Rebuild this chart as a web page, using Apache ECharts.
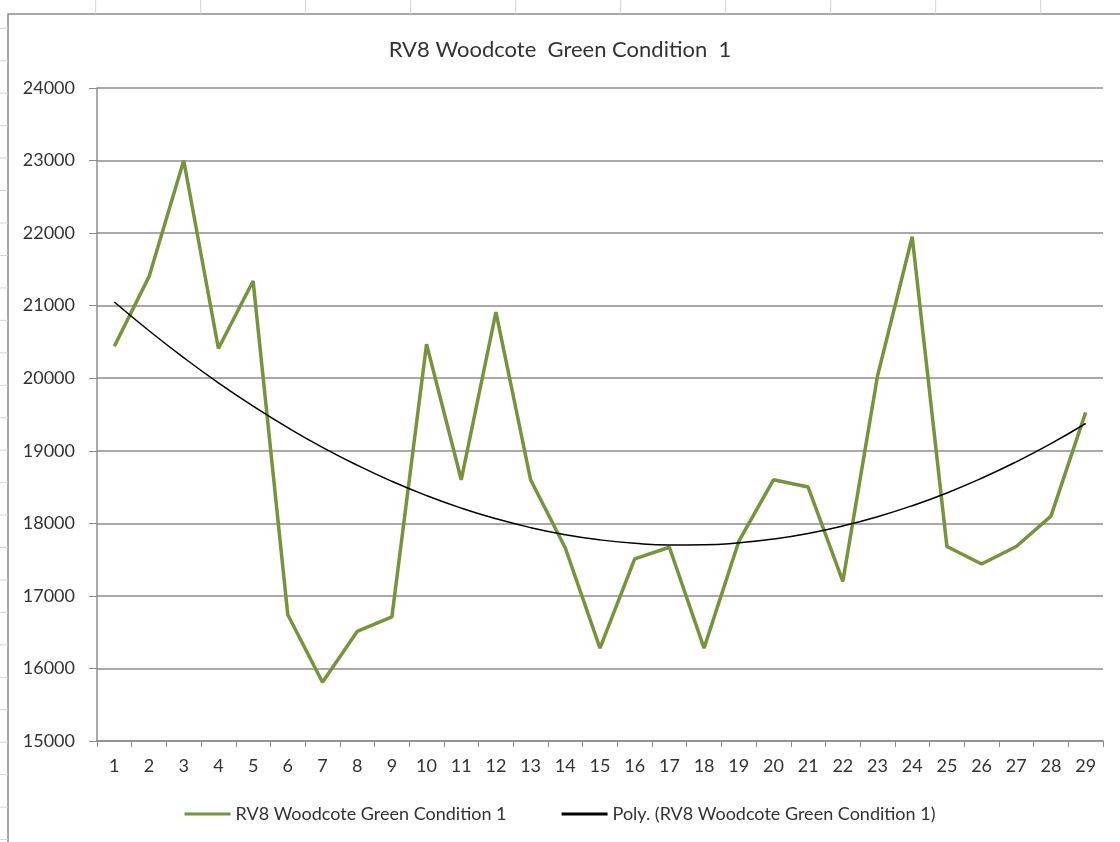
<!DOCTYPE html>
<html>
<head>
<meta charset="utf-8">
<script src="https://cdn.jsdelivr.net/npm/echarts@6/dist/echarts.min.js"></script>
<style>
html,body{margin:0;padding:0;background:#fff;}
#chart{width:1120px;height:842px;}
</style>
</head>
<body>
<div id="chart"></div>
<script>
var categories = ['1','2','3','4','5','6','7','8','9','10','11','12','13','14','15','16','17','18','19','20','21','22','23','24','25','26','27','28','29'];
var seriesValues = [20440,21400,23000,20410,21340,16740,15810,16510,16710,20470,18600,20910,18600,17660,16280,17510,17670,16280,17750,18600,18500,17200,20030,21950,17680,17440,17680,18100,19530];
var trendValues = [21050,20654,20283,19936,19615,19319,19047,18801,18579,18382,18210,18063,17941,17844,17772,17724,17702,17704,17732,17784,17861,17964,18091,18243,18419,18621,18848,19099,19376];
var yTicks = [15000,16000,17000,18000,19000,20000,21000,22000,23000,24000];
var seriesName = 'RV8 Woodcote Green Condition 1';
var trendName = 'Poly. (RV8 Woodcote Green Condition 1)';
var titleText = 'RV8 Woodcote  Green Condition  1';

var FONT = 'Lato, "Noto Sans", sans-serif';

// decorative spreadsheet cell lines outside the chart
var deco = [];
for (var k = 0; k < 11; k++) {
  var x = 95.7 + 105 * k;
  deco.push({type:'line', shape:{x1:x, y1:0, x2:x, y2:14}, style:{stroke:'#d4d4d4', lineWidth:1}, silent:true});
}
for (var j = 0; j < 26; j++) {
  var y = 28.3 + 32.45 * j;
  deco.push({type:'line', shape:{x1:0, y1:y, x2:8, y2:y}, style:{stroke:'#d4d4d4', lineWidth:1}, silent:true});
}
deco.push({type:'rect', shape:{x:8, y:14, width:1200, height:900}, style:{fill:'none', stroke:'#8c8c8c', lineWidth:1.5}, silent:true, z:-1});

var chart = echarts.init(document.getElementById('chart'));
chart.setOption({
  backgroundColor:'#ffffff',
  animation:false,
  graphic: deco,
  title:{
    text: titleText,
    left:'center',
    top:34,
    textStyle:{fontFamily:FONT, fontSize:22, fontWeight:'normal', color:'#333333'}
  },
  legend:{
    bottom:14,
    left:'center',
    itemGap:55,
    itemWidth:46,
    itemHeight:3,
    textStyle:{fontFamily:FONT, fontSize:18, color:'#333333'},
    data:[
      {name: seriesName, icon:'rect'},
      {name: trendName, icon:'rect', itemStyle:{color:'#000000'}}
    ]
  },
  grid:{left:97, right:17, top:88, bottom:101, containLabel:false},
  xAxis:{
    type:'category',
    data: categories,
    boundaryGap:true,
    axisLine:{lineStyle:{color:'#8c8c8c', width:1.5}},
    axisTick:{show:true, alignWithLabel:false, length:6, lineStyle:{color:'#8c8c8c'}},
    axisLabel:{fontFamily:FONT, fontSize:18, color:'#333333', margin:16, interval:0},
    splitLine:{show:false}
  },
  yAxis:{
    type:'value',
    min: yTicks[0],
    max: yTicks[yTicks.length-1],
    interval: 1000,
    axisLine:{show:true, lineStyle:{color:'#8c8c8c', width:1.5}},
    axisTick:{show:true, length:8, lineStyle:{color:'#8c8c8c'}},
    axisLabel:{fontFamily:FONT, fontSize:18, color:'#333333', margin:22, formatter:function(v){return String(v);}},
    splitLine:{show:true, lineStyle:{color:'#8c8c8c', width:1.5}}
  },
  series:[
    {
      name: seriesName,
      type:'line',
      data: seriesValues,
      symbol:'none',
      lineStyle:{color:'#77933c', width:3.5},
      itemStyle:{color:'#77933c'},
      z:2
    },
    {
      name: trendName,
      type:'line',
      data: trendValues,
      symbol:'none',
      smooth:true,
      lineStyle:{color:'#000000', width:1.5},
      itemStyle:{color:'#000000'},
      z:3
    }
  ]
});
</script>
</body>
</html>
